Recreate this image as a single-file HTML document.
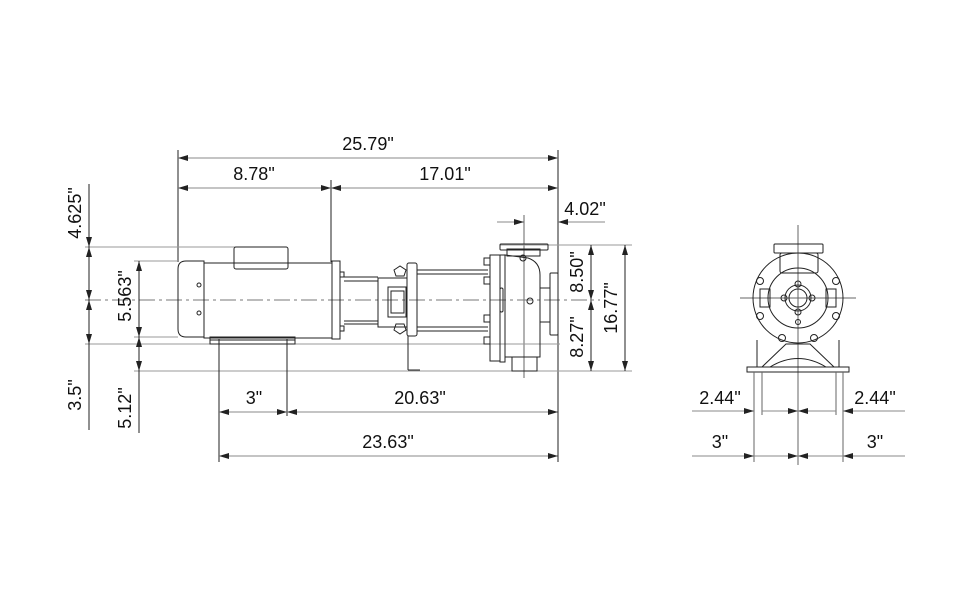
<!DOCTYPE html>
<html><head><meta charset="utf-8"><style>
html,body{margin:0;padding:0;background:#fff;}
svg{display:block;}
text{font-family:"Liberation Sans",Arial,sans-serif;font-size:18px;fill:#111;}
</style></head><body>
<svg width="976" height="600" viewBox="0 0 976 600" xmlns="http://www.w3.org/2000/svg">
<defs>
<marker id="a" viewBox="0 0 10 6" refX="10" refY="3" markerWidth="10" markerHeight="6" orient="auto-start-reverse" markerUnits="userSpaceOnUse"><path d="M0,0 L10,3 L0,6 z" fill="#222"/></marker>
</defs>
<g stroke="#222" stroke-width="1" fill="none">
<!-- top dimension extension lines -->
<line x1="178" y1="150" x2="178" y2="262"/>
<line x1="558" y1="150" x2="558" y2="378"/>
<line x1="331" y1="180" x2="331" y2="262"/>
<!-- 25.79 -->
<line x1="178" y1="158" x2="558" y2="158" marker-start="url(#a)" marker-end="url(#a)" stroke="#888"/>
<!-- 8.78 / 17.01 -->
<line x1="178" y1="188" x2="331" y2="188" marker-start="url(#a)" marker-end="url(#a)" stroke="#888"/>
<line x1="331" y1="188" x2="558" y2="188" marker-start="url(#a)" marker-end="url(#a)" stroke="#888"/>
<!-- 4.02 -->
<line x1="497" y1="222" x2="524" y2="222" marker-end="url(#a)" stroke="#888"/>
<line x1="605" y1="222" x2="558" y2="222" marker-end="url(#a)" stroke="#888"/>
<line x1="524" y1="215" x2="524" y2="378" stroke="#666"/>
<!-- right vertical dims -->
<line x1="500" y1="245" x2="632" y2="245" stroke="#999"/>
<line x1="510" y1="371" x2="632" y2="371" stroke="#999"/>
<line x1="591" y1="245" x2="591" y2="300" marker-start="url(#a)" marker-end="url(#a)"/>
<line x1="591" y1="300" x2="591" y2="371" marker-start="url(#a)" marker-end="url(#a)"/>
<line x1="625" y1="245" x2="625" y2="371" marker-start="url(#a)" marker-end="url(#a)"/>
<!-- left horizontal ext lines -->
<line x1="85" y1="247" x2="240" y2="247" stroke="#999"/>
<line x1="85" y1="344" x2="560" y2="344" stroke="#999"/>
<line x1="134" y1="261" x2="178" y2="261" stroke="#999"/>
<line x1="134" y1="337" x2="178" y2="337" stroke="#999"/>
<line x1="134" y1="371" x2="560" y2="371" stroke="#999"/>
<!-- centerline -->
<line x1="85" y1="300" x2="600" y2="300" stroke="#777" stroke-dasharray="16,4,3,4"/>
<!-- left dims -->
<line x1="89" y1="184" x2="89" y2="247" marker-end="url(#a)"/>
<line x1="89" y1="247" x2="89" y2="300" marker-start="url(#a)" marker-end="url(#a)"/>
<line x1="89" y1="300" x2="89" y2="344" marker-start="url(#a)" marker-end="url(#a)"/>
<line x1="89" y1="344" x2="89" y2="430"/>
<line x1="139" y1="261" x2="139" y2="337" marker-start="url(#a)" marker-end="url(#a)"/>
<line x1="139" y1="337" x2="139" y2="371" marker-start="url(#a)" marker-end="url(#a)"/>
<line x1="139" y1="371" x2="139" y2="433"/>
<!-- bottom dims -->
<line x1="219" y1="339" x2="219" y2="462"/>
<line x1="287" y1="339" x2="287" y2="416"/>
<line x1="219" y1="412" x2="287" y2="412" marker-start="url(#a)" marker-end="url(#a)" stroke="#888"/>
<line x1="287" y1="412" x2="558" y2="412" marker-start="url(#a)" marker-end="url(#a)" stroke="#888"/>
<line x1="219" y1="456" x2="558" y2="456" marker-start="url(#a)" marker-end="url(#a)" stroke="#888"/>
<line x1="558" y1="378" x2="558" y2="462"/>

<!-- motor -->
<path d="M204,261 L186,261 Q178,261 178,269 L178,329 Q178,337 186,337 L204,337 Z"/>
<circle cx="199" cy="285" r="2"/><circle cx="199" cy="313" r="2"/>
<rect x="204" y="263" width="128" height="75"/>
<rect x="234" y="247" width="54" height="22" rx="2"/>
<rect x="210" y="337" width="85" height="7"/>
<line x1="210" y1="340" x2="295" y2="340"/>
<rect x="332" y="261" width="8" height="78"/>
<rect x="340" y="272" width="4" height="5"/><rect x="340" y="326" width="4" height="5"/>
<!-- adapter -->
<line x1="344" y1="277" x2="378" y2="277"/><line x1="344" y1="281" x2="378" y2="281"/>
<line x1="344" y1="321" x2="378" y2="321"/><line x1="344" y1="324" x2="378" y2="324"/>
<rect x="378" y="278" width="29" height="49"/>
<rect x="388" y="287" width="18" height="30"/>
<rect x="391" y="291" width="13" height="22"/>
<path d="M394,270 l6,-4 l6,4 l-2,6 l-8,0 z"/>
<path d="M394,330 l6,4 l6,-4 l-2,-6 l-8,0 z"/>
<rect x="407" y="263" width="10" height="73" rx="2"/>
<!-- tie rods -->
<line x1="417" y1="270" x2="488" y2="270"/><line x1="417" y1="274" x2="488" y2="274"/>
<line x1="417" y1="327" x2="488" y2="327"/><line x1="417" y1="331" x2="488" y2="331"/>
<line x1="408" y1="336" x2="408" y2="370"/><line x1="408" y1="370" x2="420" y2="370"/>
<!-- pump casing -->
<rect x="484" y="258" width="6" height="7"/><rect x="484" y="277" width="6" height="7"/>
<rect x="484" y="315" width="6" height="7"/><rect x="484" y="337" width="6" height="7"/>
<rect x="490" y="255" width="10" height="106"/>
<rect x="500" y="255" width="5" height="107"/>
<rect x="500" y="288" width="3" height="24" rx="1.5"/>
<path d="M505,255 L505,357 L540,357 L540,275 Q540,262 528,258 L505,255 Z"/>
<rect x="507" y="249" width="33" height="7"/>
<rect x="500" y="244" width="48" height="6" rx="1"/>
<circle cx="523" cy="258" r="3"/>
<circle cx="530" cy="301" r="3"/>
<rect x="540" y="288" width="10" height="34"/>
<rect x="550" y="273" width="8" height="62" rx="1"/>
<rect x="512" y="357" width="25" height="14"/>

<!-- front view -->
<line x1="798" y1="225" x2="798" y2="465" stroke="#666"/>
<line x1="740" y1="298" x2="856" y2="298" stroke="#666"/>
<circle cx="798" cy="298" r="45"/>
<circle cx="798" cy="298" r="30"/>
<circle cx="798" cy="298" r="13"/>
<circle cx="798" cy="298" r="9"/>
<circle cx="798" cy="284" r="3"/><circle cx="798" cy="312" r="3"/>
<circle cx="784" cy="298" r="3"/><circle cx="812" cy="298" r="3"/>
<circle cx="798" cy="322" r="2.5"/>
<rect x="774" y="244" width="49" height="9" rx="1"/>
<rect x="780" y="253" width="38" height="20" rx="2"/>
<rect x="760" y="289" width="10" height="18"/><rect x="826" y="289" width="10" height="18"/>
<circle cx="760" cy="281" r="3.5"/><circle cx="836" cy="281" r="3.5"/>
<circle cx="760" cy="316" r="3.5"/><circle cx="836" cy="316" r="3.5"/>
<circle cx="782" cy="338" r="3.5"/><circle cx="814" cy="338" r="3.5"/>
<path d="M762,367 L786,344 L810,344 L834,367"/>
<path d="M770,367 Q798,350 826,367"/>
<rect x="747" y="367" width="102" height="5"/>
<line x1="757" y1="340" x2="757" y2="367"/><line x1="839" y1="340" x2="839" y2="367"/>
<line x1="754" y1="372" x2="754" y2="462" stroke="#666"/>
<line x1="762" y1="372" x2="762" y2="415" stroke="#666"/>
<line x1="836" y1="372" x2="836" y2="415" stroke="#666"/>
<line x1="843" y1="372" x2="843" y2="462" stroke="#666"/>
<line x1="692" y1="411" x2="754" y2="411" marker-end="url(#a)" stroke="#888"/>
<line x1="762" y1="411" x2="798" y2="411" marker-end="url(#a)" stroke="#888"/>
<line x1="836" y1="411" x2="798" y2="411" marker-end="url(#a)" stroke="#888"/>
<line x1="905" y1="411" x2="843" y2="411" marker-end="url(#a)" stroke="#888"/>
<line x1="692" y1="456" x2="754" y2="456" marker-end="url(#a)" stroke="#888"/>
<line x1="754" y1="456" x2="798" y2="456" marker-end="url(#a)" stroke="#888"/>
<line x1="843" y1="456" x2="798" y2="456" marker-end="url(#a)" stroke="#888"/>
<line x1="905" y1="456" x2="843" y2="456" marker-end="url(#a)" stroke="#888"/>
</g>
<!-- labels -->
<text x="368" y="150" text-anchor="middle">25.79"</text>
<text x="254" y="180" text-anchor="middle">8.78"</text>
<text x="445" y="180" text-anchor="middle">17.01"</text>
<text x="585" y="215" text-anchor="middle">4.02"</text>
<text x="254" y="404" text-anchor="middle">3"</text>
<text x="420" y="404" text-anchor="middle">20.63"</text>
<text x="388" y="448" text-anchor="middle">23.63"</text>
<text x="720" y="404" text-anchor="middle">2.44"</text>
<text x="875" y="404" text-anchor="middle">2.44"</text>
<text x="720" y="448" text-anchor="middle">3"</text>
<text x="875" y="448" text-anchor="middle">3"</text>
<text transform="translate(81,213) rotate(-90)" text-anchor="middle">4.625"</text>
<text transform="translate(131,296) rotate(-90)" text-anchor="middle">5.563"</text>
<text transform="translate(81,395) rotate(-90)" text-anchor="middle">3.5"</text>
<text transform="translate(131,408) rotate(-90)" text-anchor="middle">5.12"</text>
<text transform="translate(583,272) rotate(-90)" text-anchor="middle">8.50"</text>
<text transform="translate(583,337) rotate(-90)" text-anchor="middle">8.27"</text>
<text transform="translate(617,308) rotate(-90)" text-anchor="middle">16.77"</text>
</svg>
</body></html>
